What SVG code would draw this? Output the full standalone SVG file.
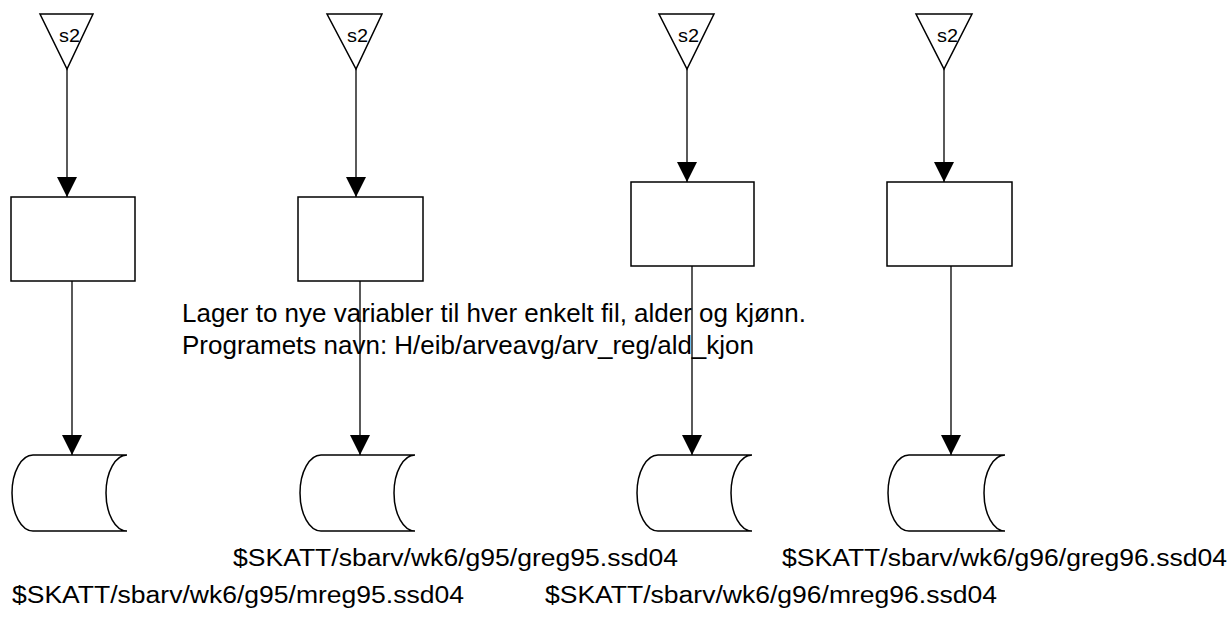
<svg xmlns="http://www.w3.org/2000/svg" width="1232" height="621" viewBox="0 0 1232 621">
<style>
.shape{fill:#fff;stroke:#000;stroke-width:1.5}
.conn{fill:none;stroke:#000;stroke-width:1.3}
.t{font-family:"Liberation Sans",Arial,Helvetica,sans-serif;fill:#000}
.s2{font-size:19px}
.note{font-size:25px}
.lbl{font-size:23px}
</style>
<defs>
<marker id="ah" markerUnits="userSpaceOnUse" markerWidth="20" markerHeight="20" refX="20" refY="10" orient="auto">
<path d="M0,0 L20,10 L0,20 Z" fill="#000"/>
</marker>
</defs>
<rect width="1232" height="621" fill="#fff"/>
<g id="connectors">
<line class="conn" x1="67" y1="69" x2="67" y2="197" marker-end="url(#ah)"/>
<line class="conn" x1="356" y1="69" x2="356" y2="197" marker-end="url(#ah)"/>
<line class="conn" x1="687" y1="69" x2="687" y2="182" marker-end="url(#ah)"/>
<line class="conn" x1="944" y1="69" x2="944" y2="182" marker-end="url(#ah)"/>
<line class="conn" x1="72" y1="281" x2="72" y2="455" marker-end="url(#ah)"/>
<line class="conn" x1="360" y1="281" x2="360" y2="455" marker-end="url(#ah)"/>
<line class="conn" x1="692" y1="266" x2="692" y2="455" marker-end="url(#ah)"/>
<line class="conn" x1="951" y1="266" x2="951" y2="455" marker-end="url(#ah)"/>
</g>
<g id="src1"><polygon class="shape" points="40,14 93,14 67,69"/><text class="t s2" x="59" y="42" textLength="21" lengthAdjust="spacingAndGlyphs">s2</text></g>
<g id="src2"><polygon class="shape" points="327,14 382,14 356,69"/><text class="t s2" x="347" y="42" textLength="21" lengthAdjust="spacingAndGlyphs">s2</text></g>
<g id="src3"><polygon class="shape" points="659,14 714,14 687,69"/><text class="t s2" x="678" y="42" textLength="21" lengthAdjust="spacingAndGlyphs">s2</text></g>
<g id="src4"><polygon class="shape" points="916,14 972,14 944,69"/><text class="t s2" x="937" y="42" textLength="21" lengthAdjust="spacingAndGlyphs">s2</text></g>
<g id="proc1"><rect class="shape" x="11" y="197" width="124" height="84"/></g>
<g id="proc2"><rect class="shape" x="298" y="197" width="125" height="84"/></g>
<g id="proc3"><rect class="shape" x="631" y="182" width="123" height="84"/></g>
<g id="proc4"><rect class="shape" x="887" y="182" width="125" height="84"/></g>
<g id="store1"><path class="shape" d="M33,455 L127,455 A21,38 0 0 0 127,531 L33,531 A21,38 0 0 1 33,455 Z"/></g>
<g id="store2"><path class="shape" d="M321,455 L415,455 A21,38 0 0 0 415,531 L321,531 A21,38 0 0 1 321,455 Z"/></g>
<g id="store3"><path class="shape" d="M658,455 L752,455 A21,38 0 0 0 752,531 L658,531 A21,38 0 0 1 658,455 Z"/></g>
<g id="store4"><path class="shape" d="M909,455 L1005,455 A21,38 0 0 0 1005,531 L909,531 A21,38 0 0 1 909,455 Z"/></g>
<g id="note">
<text class="t note" x="182" y="322" textLength="624" lengthAdjust="spacingAndGlyphs">Lager to nye variabler til hver enkelt fil, alder og kjønn.</text>
<text class="t note" x="182" y="354" textLength="572" lengthAdjust="spacingAndGlyphs">Programets navn: H/eib/arveavg/arv_reg/ald_kjon</text>
</g>
<g id="labels">
<text class="t lbl" x="233" y="566" textLength="445" lengthAdjust="spacingAndGlyphs">$SKATT/sbarv/wk6/g95/greg95.ssd04</text>
<text class="t lbl" x="782" y="566" textLength="445" lengthAdjust="spacingAndGlyphs">$SKATT/sbarv/wk6/g96/greg96.ssd04</text>
<text class="t lbl" x="12" y="603" textLength="452" lengthAdjust="spacingAndGlyphs">$SKATT/sbarv/wk6/g95/mreg95.ssd04</text>
<text class="t lbl" x="545" y="603" textLength="452" lengthAdjust="spacingAndGlyphs">$SKATT/sbarv/wk6/g96/mreg96.ssd04</text>
</g>
</svg>
